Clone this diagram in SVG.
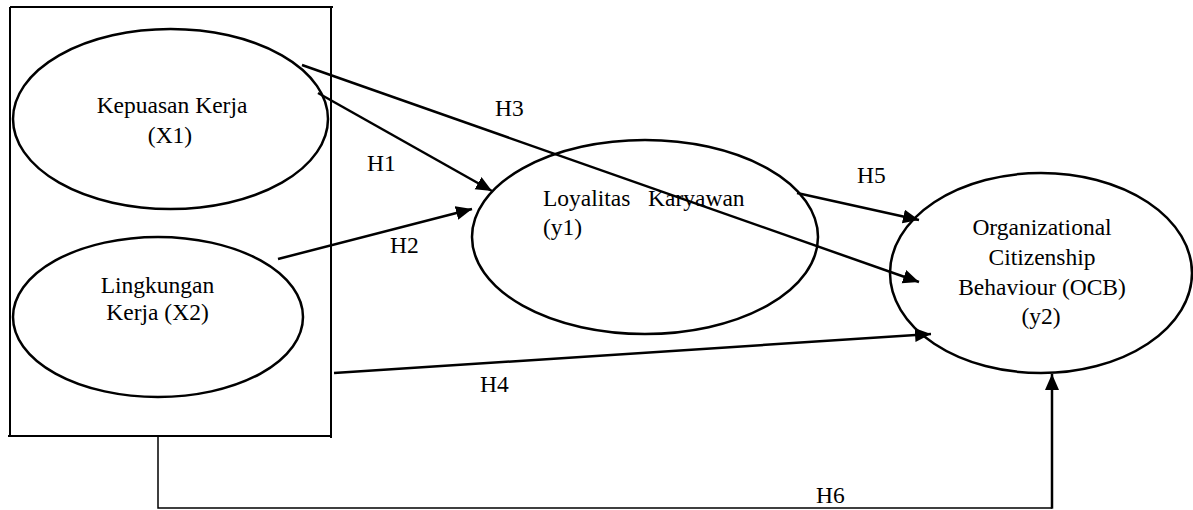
<svg xmlns="http://www.w3.org/2000/svg" width="1193" height="510" viewBox="0 0 1193 510">
<style>
.n{fill:#fff;stroke:#000;stroke-width:2.5}
.t{font-family:"Liberation Serif","Times New Roman",serif;font-size:23.5px;fill:#000}
.c{text-anchor:middle}
.l{fill:none;stroke:#000;stroke-width:2.5}
</style>
<defs>
<marker id="ah" markerUnits="userSpaceOnUse" markerWidth="18" markerHeight="16" refX="16" refY="7" orient="auto">
<path d="M0,0 L16,7 L0,14 z" fill="#000"/>
</marker>
</defs>
<rect width="1193" height="510" fill="#fff"/>
<g id="frame">
<path d="M10,7 H333 M10,7 V436 M8,436 H332 M331,7 V438" fill="none" stroke="#000" stroke-width="2"/>
</g>
<g id="x1">
<ellipse class="n" cx="170.5" cy="119" rx="157.5" ry="90"/>
<text class="t c" x="172" y="113">Kepuasan Kerja</text>
<text class="t c" x="170" y="143">(X1)</text>
</g>
<g id="x2">
<ellipse class="n" cx="158" cy="317" rx="145" ry="80"/>
<text class="t c" x="157.5" y="293">Lingkungan</text>
<text class="t c" x="157.5" y="320">Kerja (X2)</text>
</g>
<g id="y1">
<ellipse class="n" cx="645" cy="237" rx="173" ry="97"/>
<text class="t" x="543" y="206">Loyalitas<tspan x="648">Karyawan</tspan></text>
<text class="t" x="543" y="235">(y1)</text>
</g>
<g id="y2">
<ellipse class="n" cx="1041" cy="273" rx="151" ry="100"/>
<text class="t c" x="1042" y="235">Organizational</text>
<text class="t c" x="1042" y="265">Citizenship</text>
<text class="t c" x="1042" y="295">Behaviour (OCB)</text>
<text class="t c" x="1041" y="324">(y2)</text>
</g>
<g id="connectors">
<line class="l" x1="318" y1="93" x2="492" y2="191" marker-end="url(#ah)"/>
<line class="l" x1="278" y1="259" x2="472" y2="209" marker-end="url(#ah)"/>
<line class="l" x1="302" y1="65" x2="919" y2="282" marker-end="url(#ah)"/>
<line class="l" x1="797" y1="193" x2="919" y2="220" marker-end="url(#ah)"/>
<line class="l" x1="334" y1="373" x2="931" y2="334" marker-end="url(#ah)"/>
<path d="M158,436 V508 H1052" fill="none" stroke="#000" stroke-width="1.5"/>
<line x1="1052" y1="508.7" x2="1052" y2="374" stroke="#000" stroke-width="2.5" marker-end="url(#ah)"/>
<text class="t" x="367" y="171">H1</text>
<text class="t" x="390" y="253">H2</text>
<text class="t" x="495" y="116">H3</text>
<text class="t" x="480" y="392">H4</text>
<text class="t" x="857" y="183">H5</text>
<text class="t" x="816" y="503">H6</text>
</g>
</svg>
